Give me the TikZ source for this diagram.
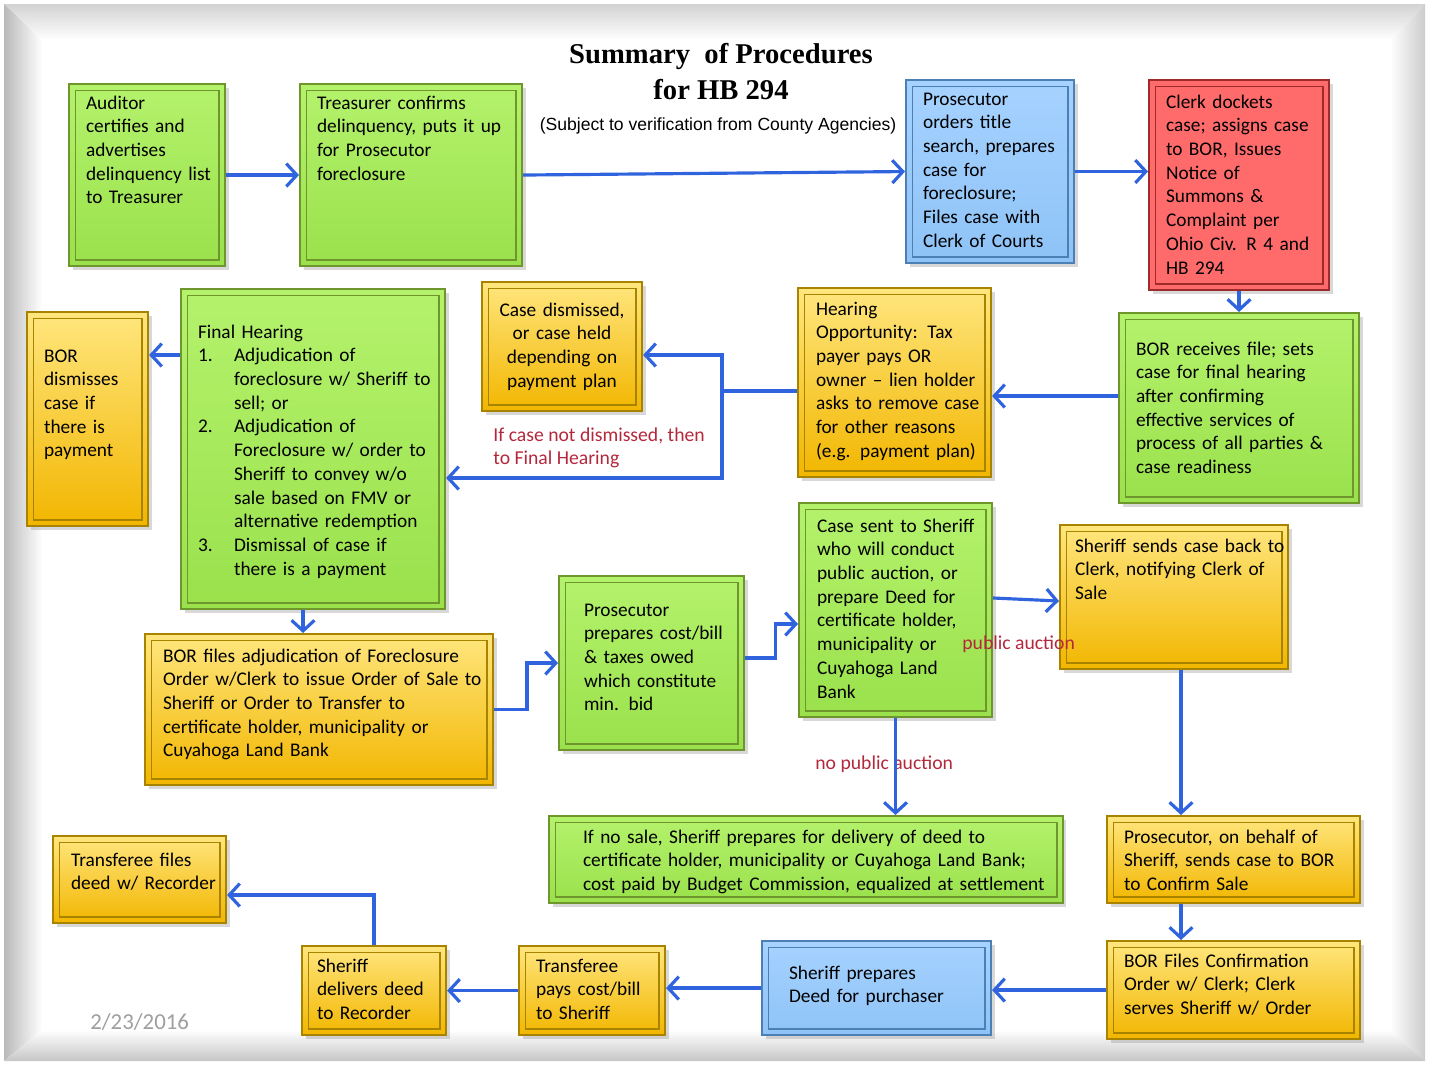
\documentclass[tikz,border=0pt]{standalone}
\usepackage{fontspec}
\setmainfont{Carlito}
\newfontfamily\titlefont{Liberation Serif}
\newfontfamily\subtitlefont{Liberation Sans}
\usetikzlibrary{arrows.meta,shadows}

\definecolor{grntop}{HTML}{B4F26C}
\definecolor{grnbot}{HTML}{9AE14C}
\definecolor{grnline}{HTML}{6E962C}
\definecolor{yeltop}{HTML}{FFE67E}
\definecolor{yelmid}{HTML}{FFD93C}
\definecolor{yelbot}{HTML}{F2B600}
\definecolor{yelline}{HTML}{A88300}
\definecolor{blutop}{HTML}{A6D2FF}
\definecolor{blubot}{HTML}{8EC3F7}
\definecolor{bluline}{HTML}{4C7FB3}
\definecolor{redfill}{HTML}{FF6B6B}
\definecolor{redline}{HTML}{9E2A2A}
\definecolor{arrblue}{HTML}{2F64DE}
\definecolor{lblred}{HTML}{B4283C}

\newcommand{\boxfont}{\fontsize{11}{13.5}\selectfont}
\newcommand{\numitem}[1]{\makebox[0.72cm][l]{#1}}
\newcommand{\numcont}{\hspace*{0.72cm}}

\begin{document}
\begin{tikzpicture}[x=0.02cm,y=-0.02cm,
  pad/.style={execute at begin node={\setlength\leftskip{#1}\setlength\rightskip{-1cm plus 1fil}}},
  sz/.style n args={3}{text width=#1, text height=#2, text depth=#3},
  bevel/.style={path picture={\draw[#1,line width=0.8pt]
    ([shift={(3.5pt,-3.5pt)}]path picture bounding box.north west) rectangle
    ([shift={(-3.5pt,3.5pt)}]path picture bounding box.south east);}},
  box/.style={anchor=north west, inner sep=0pt, font=\boxfont, pad=0.34cm,
    drop shadow={opacity=0.3,shadow xshift=2pt,shadow yshift=-2pt}},
  gbox/.style={box, draw=grnline, line width=1.2pt, top color=grntop, bottom color=grnbot, bevel=grnline},
  ybox/.style={box, draw=yelline, line width=1.2pt, top color=yeltop, middle color=yelmid, bottom color=yelbot, bevel=yelline},
  bbox/.style={box, draw=bluline, line width=1.2pt, top color=blutop, bottom color=blubot, bevel=bluline},
  rbox/.style={box, draw=redline, line width=1.2pt, fill=redfill, bevel=redline},
  lbl/.style={text=lblred, font=\fontsize{11.2}{13.5}\selectfont, inner sep=0pt},
  arr/.style={draw=arrblue, line width=1.8pt, -{Straight Barb[length=6pt,width=13pt]}}]

  \useasboundingbox (0,0) rectangle (1429,1065);
  % frame
  \fill[white] (0,0) rectangle (1429,1065);
  \shade[top color=gray!35, bottom color=white] (4,4) -- (1425,4) -- (1390,40) -- (42,40) -- cycle;
  \shade[left color=gray!55, right color=white] (4,4) -- (42,40) -- (42,1030) -- (4,1061) -- cycle;
  \shade[left color=white, right color=gray!40] (1425,4) -- (1425,1061) -- (1390,1030) -- (1390,40) -- cycle;
  \shade[top color=white, bottom color=gray!45] (4,1061) -- (42,1030) -- (1390,1030) -- (1425,1061) -- cycle;

  % title
  \node[font=\titlefont\bfseries\fontsize{16.3}{20.4}\selectfont, align=center, anchor=north, inner sep=0pt] (ttl) at (721,43)
    {Summary\ \ of Procedures\\for HB 294};
  \node[font=\subtitlefont\fontsize{10}{12}\selectfont, anchor=base, inner sep=0pt] (sub) at (718,130)
    {(Subject to verification from County Agencies)};

  % top row
  \node[gbox, sz={3.12cm}{0.5cm}{3.14cm}] (aud) at (68,83)
    {Auditor\\certifies and\\advertises\\delinquency list\\to Treasurer};
  \node[gbox, sz={4.44cm}{0.5cm}{3.14cm}] (tre) at (299,83)
    {Treasurer confirms\\delinquency, puts it up\\for Prosecutor\\foreclosure};
  \node[bbox, sz={3.36cm}{0.5cm}{3.16cm}] (pro) at (905,79)
    {Prosecutor\\orders title\\search, prepares\\case for\\foreclosure;\\Files case with\\Clerk of Courts};
  \node[rbox, sz={3.6cm}{0.56cm}{3.64cm}] (clk) at (1148,79)
    {Clerk dockets\\case; assigns case\\to BOR,  Issues\\Notice of\\Summons \&\\Complaint per\\Ohio Civ. R 4 and\\HB 294};

  % hearings
  \node[gbox, sz={4.8cm}{0.84cm}{2.96cm}] (borr) at (1118,312)
    {BOR receives file; sets\\case for final hearing\\after confirming\\effective services of\\process of all parties \&\\case readiness};
  \node[ybox, sz={3.86cm}{0.54cm}{3.24cm}, pad=0.36cm] (hear) at (797,287)
    {Hearing\\Opportunity: Tax\\payer pays OR\\owner -- lien holder\\asks to remove case\\for other reasons\\(e.g. payment plan)};
  \node[ybox, sz={3.2cm}{0.68cm}{1.9cm}, execute at begin node=\centering] (dis) at (481,281)
    {Case dismissed,\\or case held\\depending on\\payment plan};
  \node[gbox, sz={5.28cm}{0.98cm}{5.42cm}] (fin) at (180,288)
    {Final Hearing\\
     \numitem{1.}Adjudication of\\
     \numcont foreclosure w/ Sheriff to\\
     \numcont sell; or\\
     \numitem{2.}Adjudication of\\
     \numcont Foreclosure w/ order to\\
     \numcont Sheriff to convey w/o\\
     \numcont sale based on FMV or\\
     \numcont alternative redemption\\
     \numitem{3.}Dismissal of case if\\
     \numcont there is a payment};
  \node[ybox, sz={2.42cm}{1.0cm}{3.28cm}] (bdis) at (26,311)
    {BOR\\dismisses\\case if\\there is\\payment};

  % sale
  \node[ybox, sz={6.96cm}{0.56cm}{2.46cm}, pad=0.36cm] (bfil) at (144,633)
    {BOR files adjudication of Foreclosure\\Order w/Clerk to issue Order of Sale to\\Sheriff or Order to Transfer to\\certificate holder, municipality or\\Cuyahoga Land Bank};
  \node[gbox, sz={3.7cm}{0.8cm}{2.68cm}, pad=0.5cm] (ppre) at (558,575)
    {Prosecutor\\prepares cost/bill\\\& taxes owed\\which constitute\\min. bid};
  \node[gbox, sz={3.86cm}{0.58cm}{3.7cm}, pad=0.36cm] (csnt) at (798,502)
    {Case sent to Sheriff\\who will conduct\\public auction, or\\prepare Deed for\\certificate holder,\\municipality or\\Cuyahoga Land\\Bank};
  \node[ybox, sz={4.56cm}{0.54cm}{2.34cm}, pad=0.3cm] (ssb) at (1059,524)
    {Sheriff sends case back to\\Clerk, notifying Clerk of\\Sale};
  \node[gbox, sz={10.28cm}{0.54cm}{1.2cm}, pad=0.68cm] (nosale) at (548,815)
    {If no sale, Sheriff prepares for delivery of deed to\\certificate holder, municipality or Cuyahoga Land Bank;\\cost paid by Budget Commission, equalized at settlement};
  \node[ybox, sz={5.06cm}{0.54cm}{1.2cm}] (pob) at (1106,815)
    {Prosecutor, on behalf of\\Sheriff, sends case to BOR\\to Confirm Sale};

  % deed
  \node[ybox, sz={5.06cm}{0.52cm}{1.44cm}] (bcf) at (1106,940)
    {BOR Files Confirmation\\Order w/ Clerk; Clerk\\serves Sheriff w/ Order};
  \node[bbox, sz={4.58cm}{0.76cm}{1.12cm}, pad=0.54cm] (spd) at (761,940)
    {Sheriff prepares\\Deed for purchaser};
  \node[ybox, sz={2.92cm}{0.52cm}{1.26cm}] (tpay) at (518,945)
    {Transferee\\pays cost/bill\\to Sheriff};
  \node[ybox, sz={2.88cm}{0.52cm}{1.26cm}, pad=0.3cm] (sdel) at (301,945)
    {Sheriff\\delivers deed\\to Recorder};
  \node[ybox, sz={3.46cm}{0.6cm}{1.14cm}, pad=0.36cm] (tfil) at (52,835)
    {Transferee files\\deed w/ Recorder};

  \node[font=\fontsize{13}{15}\selectfont, text=gray!75, anchor=west, inner sep=0pt] (date) at (90,1022) {2/23/2016};

  % branch labels
  \node[lbl, align=left, anchor=north west] (lnot) at (493,427) {If case not dismissed, then\\to Final Hearing};
  \node[lbl, anchor=west] (lpub) at (962,644) {public auction};
  \node[lbl, anchor=west] (lnopub) at (815,764) {no public auction};

  % connectors
  \coordinate (jn) at (722,391);
  \coordinate (sx) at (1181,0);
  \draw[arr] (aud) -- (tre);
  \draw[arr] (tre.east) -- (pro.west);
  \draw[arr] (pro.east) -- (pro.east -| clk.west);
  \draw[arr] (clk.south) -- (clk.south |- borr.north);
  \draw[arr] (borr.west |- 0,396) -- (hear.east |- 0,396);
  \draw[arr] (hear.west |- jn) -- (jn) |- (dis.east |- 0,355);
  \draw[arr] (jn) |- (fin.east |- 0,478);
  \draw[arr] (fin.west |- 0,355) -- (bdis.east |- 0,355);
  \draw[arr] ([xshift=-0.2cm]fin.south) -- ([xshift=-0.2cm]fin.south |- bfil.north);
  \draw[arr] (bfil.east) -- ++(33,0) |- (ppre.west);
  \draw[arr] ([yshift=0.1cm]ppre.east) -- ++(30,0) |- (csnt.west |- 0,624);
  \draw[arr] (csnt.east |- 0,598) -- (ssb.west |- 0,601);
  \draw[arr] (csnt.south) -- (csnt.south |- nosale.north);
  \draw[arr] (ssb.south -| sx) -- (pob.north -| sx);
  \draw[arr] (pob.south -| sx) -- (bcf.north -| sx);
  \draw[arr] (bcf.west) -- (bcf.west -| spd.east);
  \draw[arr] (spd.west) -- (spd.west -| tpay.east);
  \draw[arr] (tpay.west) -- (tpay.west -| sdel.east);
  \draw[arr] (sdel.north) |- (tfil.east |- 0,895);
\end{tikzpicture}
\end{document}
